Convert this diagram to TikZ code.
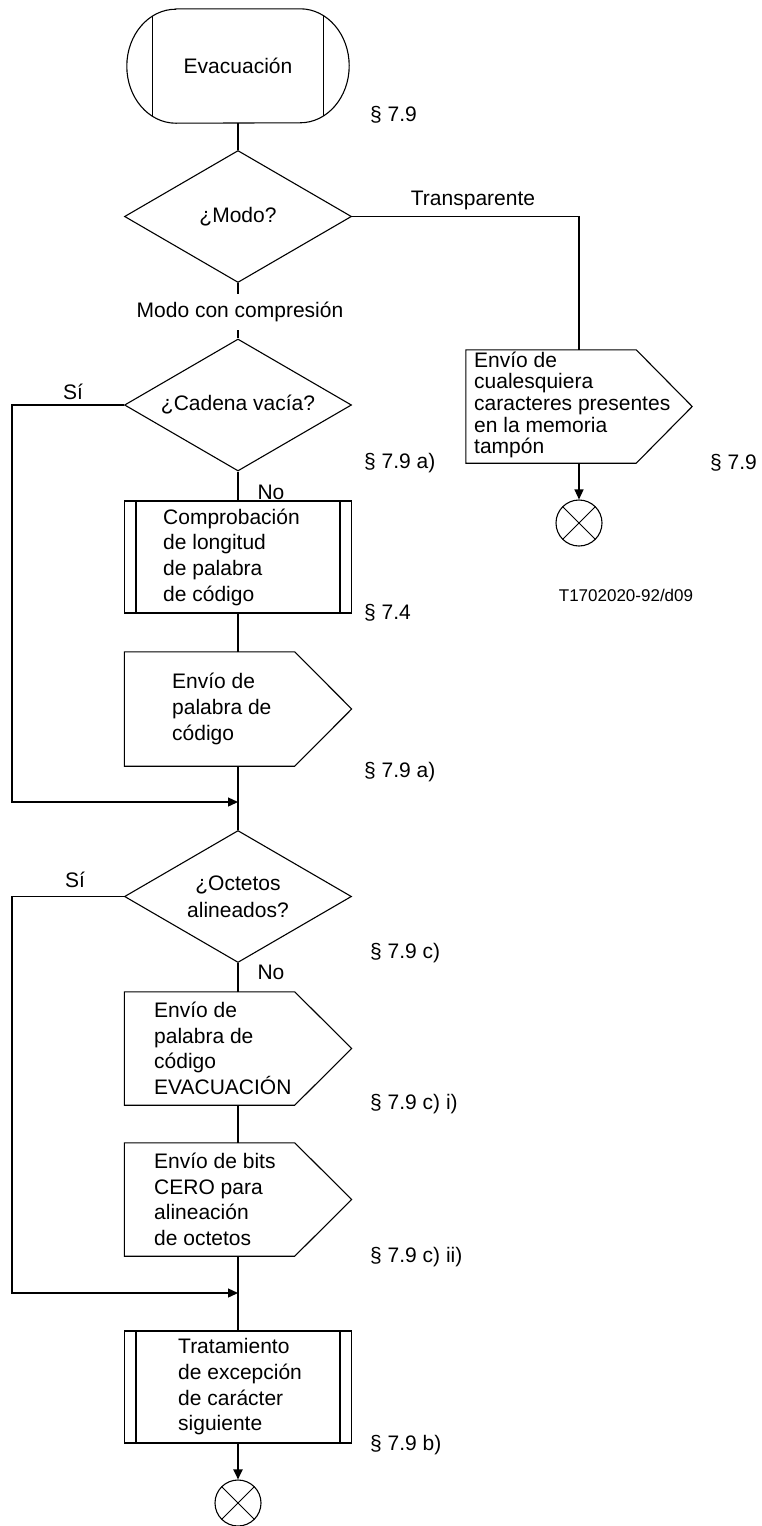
\documentclass[tikz,border=0pt]{standalone}
\usepackage{fontspec}
\setmainfont{Liberation Sans}
\usetikzlibrary{shapes.geometric,arrows.meta}

\newcommand\mainsize{\fontsize{21pt}{25.7pt}\selectfont}
\newcommand\tightsize{\fontsize{21pt}{21.7pt}\selectfont}
\newcommand\smallsize{\fontsize{17pt}{20pt}\selectfont}

% outline of a "send signal" box: rectangle with a pointed right side
\newcommand\sendoutline[2]{%
  \draw[outline] (#1.north west) -- ([xshift=-#2]#1.north east) -- (#1.east)
    -- ([xshift=-#2]#1.south east) -- (#1.south west) -- cycle;}
% inner bars of a predefined-process box
\newcommand\procbars[1]{%
  \draw[outline] ([xshift=12pt]#1.north west) -- ([xshift=12pt]#1.south west);
  \draw[line width=1.8pt] ([xshift=-12pt]#1.north east) -- ([xshift=-12pt]#1.south east);}

\begin{document}
\begin{tikzpicture}[x=1pt,y=-1pt,
  every node/.style={font=\mainsize},
  outline/.style={line width=1.1pt},
  flow/.style={line width=2pt},
  loopline/.style={line width=1.3pt},
  tip/.style={-{Triangle[length=10pt,width=9pt]}},
  decision/.style={diamond, draw, outline, shape aspect=1.7,
    minimum width=227pt, minimum height=132pt, inner sep=0pt, align=center},
  procbox/.style={rectangle, draw, outline, minimum width=227pt,
    minimum height=112pt, inner sep=0pt},
  sendframe/.style={rectangle, minimum width=227pt, minimum height=113pt,
    inner sep=0pt},
  boxtext/.style={anchor=west, align=left, inner sep=0pt},
  ref/.style={anchor=west, inner sep=0pt},
  endmark/.style={circle, draw, outline, minimum size=46pt, inner sep=0pt,
    path picture={\draw[line width=0.9pt]
      (path picture bounding box.north west) -- (path picture bounding box.south east)
      (path picture bounding box.north east) -- (path picture bounding box.south west);}},
]
\fill[white] (0,0) rectangle (761,1526);
\useasboundingbox (0,0) rectangle (761,1526);

% start terminal: bars inside a rounded outline
\node[rectangle, minimum width=170pt, minimum height=114pt, inner sep=0pt] (start) at (238,66) {Evacuación};
\draw[outline] ([yshift=-7pt]start.north west) -- ([yshift=7pt]start.south west)
  ([yshift=-7pt]start.north east) -- ([yshift=7pt]start.south east);
\draw[outline] ([xshift=23pt]start.north west) -- ([xshift=-23pt]start.north east)
  arc[start angle=90, end angle=-90, x radius=49pt, y radius=57pt]
  -- ([xshift=23pt]start.south west)
  arc[start angle=270, end angle=90, x radius=49pt, y radius=57pt] -- cycle;
\node[ref] (r1) at (370,115) {§ 7.9};

% mode decision
\node[decision] (d1) at (238,216.5) {¿Modo?};
\node (ltr) at (473,200) {Transparente};

% transparent branch
\node[sendframe, minimum width=226pt] (s4) at (579,406.5) {};
\sendoutline{s4}{56pt}
\node[boxtext, font=\tightsize] (s4t) at (474,405) {Envío de\\cualesquiera\\caracteres presentes\\en la memoria\\tampón};
\node[ref] (r2) at (710,463) {§ 7.9};
\node[endmark] (c2) at (579,523) {};
\node[font=\smallsize] (fig) at (626,595) {T1702020-92/d09};

% empty string decision
\node[decision] (d2) at (238,405) {¿Cadena vacía?};
\node (si1) at (73,392) {Sí};
\node (no1) at (271,492) {No};
\node[ref] (r3) at (364,463) {§ 7.9 a)};

\node[procbox] (p1) at (238,557) {};
\procbars{p1}
\node[boxtext] (p1t) at (163,557) {Comprobación\\de longitud\\de palabra\\de código};
\node[ref] (r4) at (364,613) {§ 7.4};

\node[sendframe, minimum height=114pt] (s1) at (238,709) {};
\sendoutline{s1}{57pt}
\node[boxtext] (s1t) at (172,709) {Envío de\\palabra de\\código};
\node[ref] (r5) at (364,772) {§ 7.9 a)};

\coordinate (m1) at (238,802);
\coordinate (lp1) at (12,802);

% octet alignment decision
\node[decision, font=\fontsize{21pt}{27pt}\selectfont] (d3) at (238,896.5) {¿Octetos\\alineados?};
\node (si2) at (75,880) {Sí};
\node (no2) at (271,972) {No};
\node[ref] (r6) at (370,953) {§ 7.9 c)};

\node[sendframe] (s2) at (238,1048.5) {};
\sendoutline{s2}{57pt}
\node[boxtext] (s2t) at (154,1048.5) {Envío de\\palabra de\\código\\EVACUACIÓN};
\node[ref] (r7) at (370,1104) {§ 7.9 c) i)};

\node[sendframe] (s3) at (238,1199.5) {};
\sendoutline{s3}{57pt}
\node[boxtext] (s3t) at (154,1199.5) {Envío de bits\\CERO para\\alineación\\de octetos};
\node[ref] (r8) at (370,1257) {§ 7.9 c) ii)};

\coordinate (m2) at (238,1293);
\coordinate (lp2) at (12,1293);

\node[procbox] (p2) at (238,1387) {};
\procbars{p2}
\node[boxtext] (p2t) at (178,1387) {Tratamiento\\de excepción\\de carácter\\siguiente};
\node[ref] (r9) at (370,1445) {§ 7.9 b)};

\node[endmark] (c1) at (238,1503) {};

% connectors
\draw[flow] (start.south) -- (d1.north);
\draw[flow] (d1.south) -- (d2.north);
\node[fill=white, inner xsep=1pt, inner ysep=8pt] (mcc) at (240,312) {Modo con compresión};
\draw[loopline] (d1.east) -| (s4.north);
\draw[loopline, tip] (s4.south) -- (c2.north);
\draw[flow] (d2.south) -- (p1.north);
\draw[flow] (p1.south) -- (s1.north);
\draw[flow] (s1.south) -- (d3.north);
\draw[loopline, tip] (d2.west) -| (lp1) -- (m1);
\draw[flow] (d3.south) -- (s2.north);
\draw[flow] (s2.south) -- (s3.north);
\draw[flow] (s3.south) -- (p2.north);
\draw[loopline, tip] (d3.west) -| (lp2) -- (m2);
\draw[flow, tip] (p2.south) -- (c1.north);
\end{tikzpicture}
\end{document}
